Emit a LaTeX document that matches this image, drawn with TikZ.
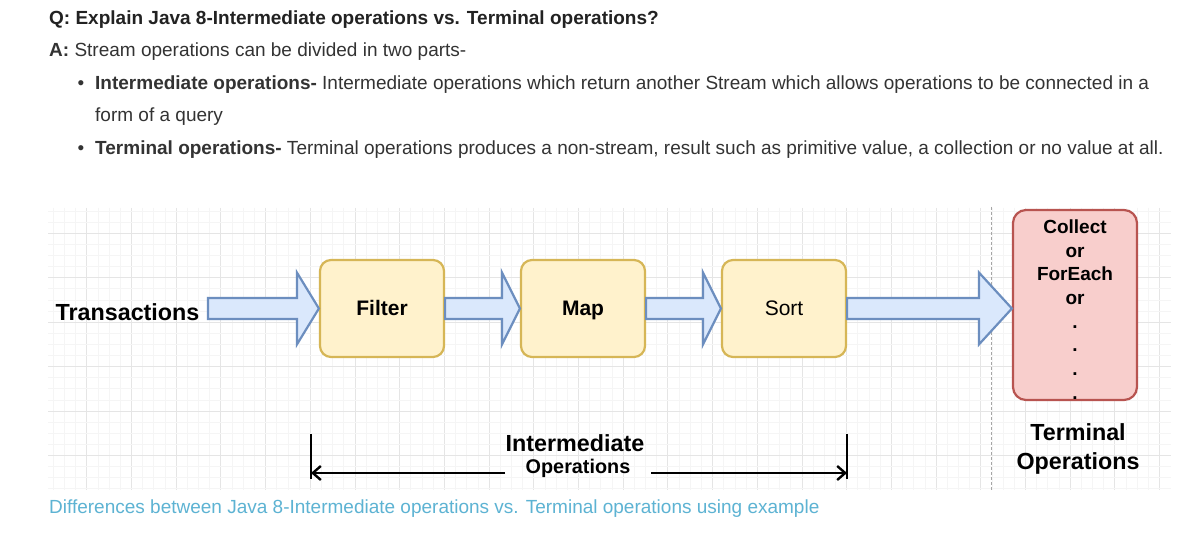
\documentclass[tikz,border=0pt]{standalone}
\usepackage{fontspec}
\setmainfont{Liberation Sans}
\usetikzlibrary{calc,arrows.meta}
\definecolor{txt}{HTML}{333333}
\definecolor{qtxt}{HTML}{222222}
\definecolor{capt}{HTML}{5DB3D3}
\definecolor{yfill}{HTML}{FFF2CC}
\definecolor{ydraw}{HTML}{D6B656}
\definecolor{rfill}{HTML}{F8CECC}
\definecolor{rdraw}{HTML}{B85450}
\definecolor{bfill}{HTML}{DAE8FC}
\definecolor{bdraw}{HTML}{6C8EBF}
\newcommand\fs[1]{\fontsize{#1}{#1}\selectfont}
\newcommand\blockarr[5]{%
  \draw[barrow] ($(#1)+(0,#4)$) -- ($(#2)+(-#3,#4)$) -- ($(#2)+(-#3,#5)$) -- (#2)
    -- ($(#2)+(-#3,-#5)$) -- ($(#2)+(-#3,-#4)$) -- ($(#1)+(0,-#4)$) -- cycle;}
\begin{document}
\begin{tikzpicture}[x=1pt,y=-1pt,
  body/.style={anchor=base west,inner sep=0pt,text=txt,font=\fs{19}},
  bul/.style={anchor=base,inner sep=0pt,text=txt,font=\fs{19}},
  opbox/.style={draw=ydraw,fill=yfill,line width=2.2pt,rounded corners=11pt,minimum width=124pt,minimum height=97pt,inner sep=0pt,text height=15pt,text depth=0pt,font=\fs{21}},
  termbox/.style={draw=rdraw,fill=rfill,line width=2.2pt,rounded corners=13pt,minimum width=124pt,minimum height=190pt,inner sep=0pt},
  barrow/.style={draw=bdraw,fill=bfill,line width=2.2pt,line join=miter},
  dimline/.style={line width=2.6pt,-{Straight Barb[length=8pt,width=14pt,line width=2.4pt]}},
  bar/.style={line width=2.6pt},
  lbl/.style={inner sep=0pt,font=\bfseries\fs{23.3}},
  minor/.style={draw=black!4,line width=0.6pt},
  major/.style={draw=black!10,line width=0.8pt}]
\useasboundingbox (0,0) rectangle (1202,537);
\fill[white] (0,0) rectangle (1202,537);
% ---- text block
\node[body,text=qtxt,font=\bfseries\fs{19}] (q) at (49,25) {Q: Explain Java 8-Intermediate operations vs. Terminal operations?};
\node[body] (a) at (49,57) {\textbf{A:} Stream operations can be divided in two parts-};
\node[bul] (bu1) at (81,90) {\textbullet};
\node[body] (b1) at (95,90) {\textbf{Intermediate operations-} Intermediate operations which return another Stream which allows operations to be connected in a};
\node[body] (b1b) at (95,122) {form of a query};
\node[bul] (bu2) at (81,155) {\textbullet};
\node[body] (b2) at (95,155) {\textbf{Terminal operations-} Terminal operations produces a non-stream, result such as primitive value, a collection or no value at all.};
% ---- grid
\foreach \i in {0,...,99}{
  \pgfmathsetmacro\gx{53.175+\i*11.175}
  \pgfmathtruncatemacro\m{mod(\i,4)}
  \ifnum\m=3 \draw[major] (\gx,208) -- (\gx,490); \else \draw[minor] (\gx,208) -- (\gx,490); \fi
}
\foreach \i in {0,...,25}{
  \pgfmathsetmacro\gy{211.1+\i*11.1}
  \pgfmathtruncatemacro\m{mod(\i,4)}
  \ifnum\m=2 \draw[major] (48,\gy) -- (1171,\gy); \else \draw[minor] (48,\gy) -- (1171,\gy); \fi
}
\coordinate (dtop) at (991,207);
\coordinate (dbot) at (991,490);
\draw[black!35,line width=0.8pt,dash pattern=on 3pt off 2pt] (dtop) -- (dbot);
% ---- nodes
\node[lbl] (trans) at (127.5,312) {Transactions};
\coordinate (tstart) at (208,308.5);
\node[opbox,font=\bfseries\fs{21}] (filter) at (382,308.5) {Filter};
\node[opbox,font=\bfseries\fs{21}] (map) at (583,308.5) {Map};
\node[opbox] (sort) at (784,308.5) {Sort};
\node[termbox] (term) at (1075,305) {};
\node[inner sep=0pt,font=\bfseries\fs{19},align=center] (termtxt) at (1075,309.5)
  {Collect\\[4.7pt]or\\[4.7pt]ForEach\\[4.7pt]or\\[4.7pt].\\[4.7pt].\\[4.7pt].\\[4.7pt].};
\coordinate (tip4) at (term.west |- sort.east);
% ---- block arrows
\blockarr{tstart}{filter.west}{22}{10.5}{36}
\blockarr{filter.east}{map.west}{18}{10.5}{36}
\blockarr{map.east}{sort.west}{18}{10.5}{36}
\blockarr{sort.east}{tip4}{33}{10.5}{36}
% ---- labels
\node[lbl,align=center] (tlab) at (1078,449) {Terminal\\[5pt]Operations};
\node[lbl] (ilab1) at (575,443) {Intermediate};
\node[inner sep=0pt,font=\bfseries\fs{19.8}] (ilab2) at (578,468) {Operations};
% ---- dimension
\coordinate (lt) at (311,434);
\coordinate (lb) at (311,479);
\coordinate (rt) at (847,434);
\coordinate (rb) at (847,479);
\draw[bar] (lt) -- (lb);
\draw[bar] (rt) -- (rb);
\coordinate (la) at (311,473);
\coordinate (ra) at (847,473);
\coordinate (lg) at (505,473);
\coordinate (rg) at (651,473);
\draw[dimline] (lg) -- (la);
\draw[dimline] (rg) -- (ra);
% ---- caption
\node[body,text=capt,font=\fs{19}] (cap) at (49,513) {Differences between Java 8-Intermediate operations vs. Terminal operations using example};
\end{tikzpicture}
\end{document}
